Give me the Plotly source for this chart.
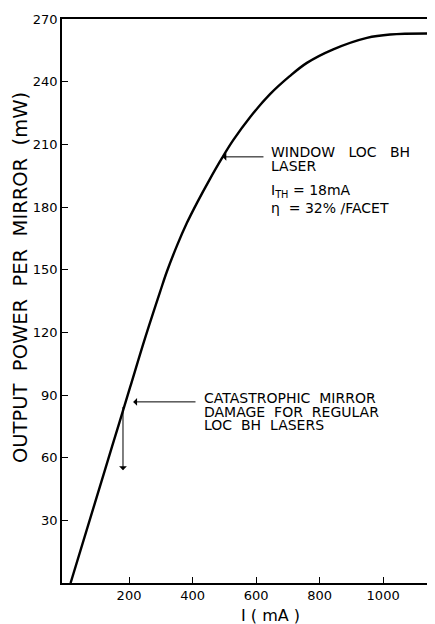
import plotly.graph_objects as go

current_mA = [16, 93, 146, 203, 250, 298, 319, 351, 382, 414, 455, 493, 528,
              581, 644, 705, 760, 843, 949, 1022, 1157]
power_mW = [0, 38.5, 65, 93.5, 117, 139.5, 149, 161.5, 172.3, 182, 193.5, 203.5, 212,
            223, 234, 242.5, 249, 255.5, 261, 262.6, 263.1]

x_ticks = [200, 400, 600, 800, 1000]
y_ticks = [30, 60, 90, 120, 150, 180, 210, 240, 270]

FONT = "DejaVu Sans"

# page has an 8px body margin; figure is sized/placed to compensate
W, H = 427, 616
ML, MR, MT, MB = 54, 2, 11, 41
pw, ph = W - ML - MR, H - MT - MB

fig = go.Figure()
fig.add_trace(go.Scatter(x=current_mA, y=power_mW, mode="lines",
                         line=dict(color="black", width=2.4, shape="spline", smoothing=1.0),
                         hoverinfo="skip", showlegend=False))

ann = []
arrow = dict(xref="x", yref="y", axref="x", ayref="y", showarrow=True, arrowhead=1,
             arrowsize=1.3, arrowwidth=1, arrowcolor="black", text="")
ann.append(dict(arrow, x=494, y=204, ax=628, ay=204))      # window laser
ann.append(dict(arrow, x=213, y=86.7, ax=414, ay=86.7))    # catastrophic damage
ann.append(dict(arrow, x=181, y=54, ax=181, ay=85))        # downward arrow

txt = [
    ("WINDOW   LOC   BH", 642, 206.5, 14),
    ("LASER", 642, 199.8, 14),
    ("I<sub>TH</sub> = 18mA", 642, 187.5, 14),
    ("\u03b7  = 32% /FACET", 642, 179.7, 14),
    ("CATASTROPHIC  MIRROR", 431, 88.7, 14),
    ("DAMAGE  FOR  REGULAR", 431, 81.7, 14),
    ("LOC  BH  LASERS", 431, 75.5, 14),
]
for t, x, y, s in txt:
    ann.append(dict(x=x, y=y, xref="x", yref="y", text=t, showarrow=False,
                    xanchor="left", yanchor="middle",
                    font=dict(family=FONT, size=s, color="black")))

# axis titles
ann.append(dict(x=(12 - ML) / pw, y=(H - MB - 270) / ph, xref="paper", yref="paper",
                text="OUTPUT  POWER  PER  MIRROR  (mW)", textangle=-90, showarrow=False,
                xanchor="center", yanchor="middle",
                font=dict(family=FONT, size=19.5, color="black")))
ann.append(dict(x=(262 - ML) / pw, y=(H - MB - 607) / ph, xref="paper", yref="paper",
                text="I ( mA )", showarrow=False, xanchor="center", yanchor="middle",
                font=dict(family=FONT, size=16, color="black")))

axis_common = dict(ticks="inside", ticklen=6, tickcolor="black", tickwidth=1.2,
                   showgrid=False, zeroline=False, showline=True, linecolor="black",
                   linewidth=1.5, mirror=True, automargin=False,
                   tickfont=dict(family=FONT, size=13, color="black"))

fig.update_layout(
    width=W, height=H,
    margin=dict(l=ML, r=MR, t=MT, b=MB, autoexpand=False),
    paper_bgcolor="white", plot_bgcolor="white",
    annotations=ann,
    font=dict(family=FONT, color="black", size=13),
    xaxis=dict(range=[-11, 1157], tickvals=x_ticks, **axis_common),
    yaxis=dict(range=[0, 270], tickvals=y_ticks, **axis_common),
)

fig.write_html("out.html")
